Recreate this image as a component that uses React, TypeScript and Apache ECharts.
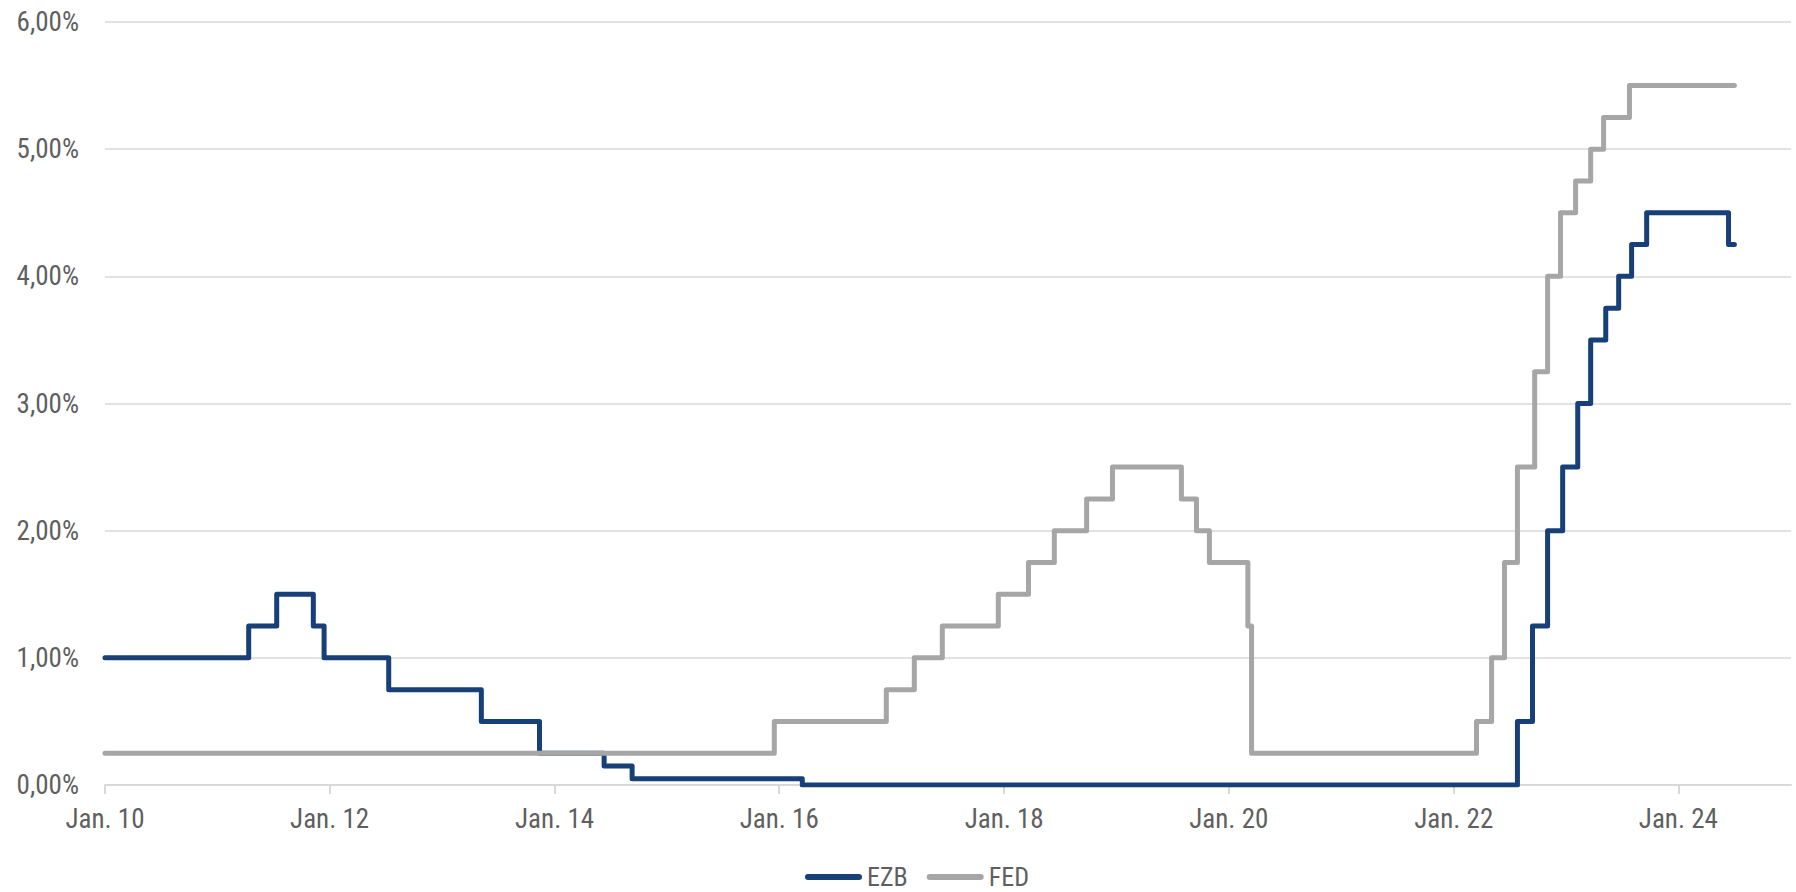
import React, { useEffect, useRef } from "react";
import * as echarts from "echarts";

// ---- data ----
const ezbDates = [
  "2010-01-01", "2011-04-13", "2011-07-13", "2011-11-09", "2011-12-14",
  "2012-07-11", "2013-05-08", "2013-11-13", "2014-06-11", "2014-09-10",
  "2016-03-16", "2022-07-27", "2022-09-14", "2022-11-02", "2022-12-21",
  "2023-02-08", "2023-03-22", "2023-05-10", "2023-06-21", "2023-08-02",
  "2023-09-20", "2024-06-12", "2024-07-01",
];
const ezbRates = [
  1.0, 1.25, 1.5, 1.25, 1.0,
  0.75, 0.5, 0.25, 0.15, 0.05,
  0.0, 0.5, 1.25, 2.0, 2.5,
  3.0, 3.5, 3.75, 4.0, 4.25,
  4.5, 4.25, 4.25,
];

const fedDates = [
  "2010-01-01", "2015-12-16", "2016-12-14", "2017-03-15", "2017-06-14",
  "2017-12-13", "2018-03-21", "2018-06-13", "2018-09-26", "2018-12-19",
  "2019-07-31", "2019-09-18", "2019-10-30", "2020-03-03", "2020-03-15",
  "2022-03-16", "2022-05-04", "2022-06-15", "2022-07-27", "2022-09-21",
  "2022-11-02", "2022-12-14", "2023-02-01", "2023-03-22", "2023-05-03",
  "2023-07-26", "2024-07-01",
];
const fedRates = [
  0.25, 0.5, 0.75, 1.0, 1.25,
  1.5, 1.75, 2.0, 2.25, 2.5,
  2.25, 2.0, 1.75, 1.25, 0.25,
  0.5, 1.0, 1.75, 2.5, 3.25,
  4.0, 4.5, 4.75, 5.0, 5.25,
  5.5, 5.5,
];

const xTickDates = [
  "2010-01-01", "2012-01-01", "2014-01-01", "2016-01-01",
  "2018-01-01", "2020-01-01", "2022-01-01", "2024-01-01",
];
const xTickLabels = [
  "Jan. 10", "Jan. 12", "Jan. 14", "Jan. 16",
  "Jan. 18", "Jan. 20", "Jan. 22", "Jan. 24",
];
const xMinDate = "2010-01-01";
const xMaxDate = "2025-01-01";

const seriesNames = ["EZB", "FED"];

const FONT = "'Liberation Sans Narrow', 'Roboto Condensed', 'Arial Narrow', 'Liberation Sans', sans-serif";
const TEXT_COLOR = "#5f5f5f";

const ts = (s: string) => {
  const [y, m, d] = s.split("-").map(Number);
  return Date.UTC(y, m - 1, d);
};

const legendIcon =
  "path://M3,0 L54,0 A3,3 0 0 1 54,6 L3,6 A3,3 0 0 1 3,0 Z";

export default function App() {
  const ref = useRef<HTMLDivElement>(null);

  useEffect(() => {
    if (!ref.current) return;
    const chart = echarts.init(ref.current, undefined, { renderer: "svg" });
    const tickTs = xTickDates.map(ts);
    const labelFor = (v: number) => {
      const i = tickTs.indexOf(v);
      return i >= 0 ? xTickLabels[i] : "";
    };
    chart.setOption({
      animation: false,
      backgroundColor: "#ffffff",
      textStyle: { fontFamily: FONT },
      grid: {
        left: 105,
        right: 5,
        top: 22,
        bottom: 107,
        containLabel: false,
      },
      legend: {
        data: seriesNames,
        left: 805,
        top: 864,
        padding: 0,
        itemWidth: 57,
        itemHeight: 6,
        itemGap: 19,
        icon: legendIcon,
        textStyle: { fontFamily: FONT, fontSize: 26, color: TEXT_COLOR, lineHeight: 26 },
      },
      xAxis: {
        type: "value",
        min: ts(xMinDate),
        max: ts(xMaxDate),
        axisLine: { show: true, lineStyle: { color: "#d9d9d9", width: 2 } },
        axisTick: {
          show: true,
          length: 9,
          customValues: tickTs,
          lineStyle: { color: "#d9d9d9", width: 2 },
        },
        axisLabel: {
          customValues: tickTs,
          formatter: (v: number) => labelFor(v),
          fontFamily: FONT,
          fontSize: 27,
          color: TEXT_COLOR,
          margin: 20,
        },
        splitLine: { show: false },
      },
      yAxis: {
        type: "value",
        min: 0,
        max: 6,
        interval: 1,
        axisLine: { show: false },
        axisTick: { show: false },
        axisLabel: {
          formatter: (v: number) => v.toFixed(2).replace(".", ",") + "%",
          fontFamily: FONT,
          fontSize: 27,
          color: TEXT_COLOR,
          margin: 26,
        },
        splitLine: { show: true, lineStyle: { color: "#d9d9d9", width: 1.5 } },
      },
      series: [
        {
          name: seriesNames[0],
          type: "line",
          step: "end",
          showSymbol: false,
          symbol: "none",
          color: "#173f78",
          lineStyle: { color: "#173f78", width: 5, cap: "round", join: "round" },
          data: ezbDates.map((d, i) => [ts(d), ezbRates[i]]),
        },
        {
          name: seriesNames[1],
          type: "line",
          step: "end",
          showSymbol: false,
          symbol: "none",
          color: "#a6a6a6",
          lineStyle: { color: "#a6a6a6", width: 5, cap: "round", join: "round" },
          data: fedDates.map((d, i) => [ts(d), fedRates[i]]),
        },
      ],
    });
    return () => chart.dispose();
  }, []);

  return (
    <div
      ref={ref}
      style={{ position: "absolute", left: 0, top: 0, width: 1796, height: 892 }}
    />
  );
}
